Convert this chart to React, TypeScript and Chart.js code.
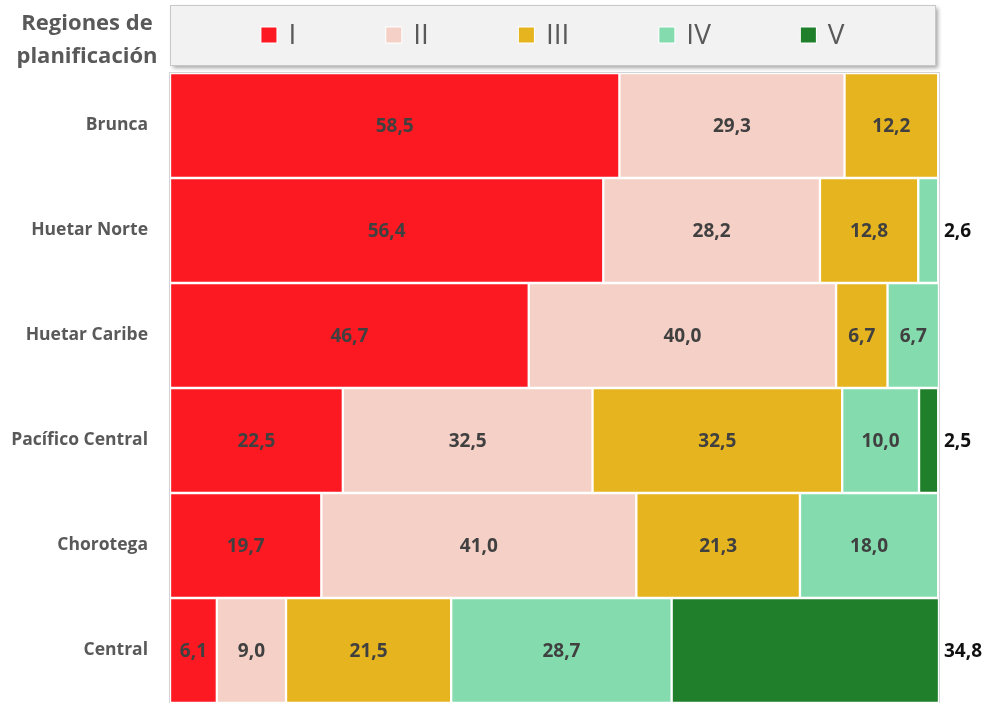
import React, { useEffect, useRef } from "react";
import { Chart, registerables } from "chart.js";
Chart.register(...registerables);

const categories = ["Brunca", "Huetar Norte", "Huetar Caribe", "Pacífico Central", "Chorotega", "Central"];
const seriesNames = ["I", "II", "III", "IV", "V"];
const seriesI = [58.5, 56.4, 46.7, 22.5, 19.7, 6.1];
const seriesII = [29.3, 28.2, 40.0, 32.5, 41.0, 9.0];
const seriesIII = [12.2, 12.8, 6.7, 32.5, 21.3, 21.5];
const seriesIV = [null, 2.6, 6.7, 10.0, 18.0, 28.7];
const seriesV = [null, null, null, 2.5, null, 34.8];
const seriesColors = ["#fc1922", "#f4d0c6", "#e6b41e", "#84dcae", "#1f7f2b"];
// [seriesIndex, categoryIndex] of value labels placed to the right of the plot
const outsideLabels = [[3, 1], [4, 3], [4, 5]];
const titleLines = ["Regiones de", "planificación"];

const allSeries = [seriesI, seriesII, seriesIII, seriesIV, seriesV];

const fmt = (v: number) => v.toFixed(1).replace(".", ",");

const decorPlugin = {
  id: "decor",
  beforeDraw(chart: any) {
    const ctx = chart.ctx;
    ctx.save();
    // title
    ctx.fillStyle = "#595959";
    ctx.font = "bold 22px 'Open Sans'";
    ctx.textAlign = "center";
    ctx.textBaseline = "alphabetic";
    ctx.fillText(titleLines[0], 87, 30);
    ctx.fillText(titleLines[1], 87, 63);

    // legend box
    const bx = 170.5, by = 5.5, bw = 765, bh = 60;
    ctx.shadowColor = "rgba(0,0,0,0.35)";
    ctx.shadowBlur = 4;
    ctx.shadowOffsetX = 2;
    ctx.shadowOffsetY = 2;
    ctx.fillStyle = "#f2f2f2";
    ctx.fillRect(bx, by, bw, bh);
    ctx.shadowColor = "transparent";
    ctx.shadowBlur = 0;
    ctx.shadowOffsetX = 0;
    ctx.shadowOffsetY = 0;
    ctx.strokeStyle = "#c8c8c8";
    ctx.lineWidth = 1;
    ctx.strokeRect(bx, by, bw, bh);

    ctx.font = "28px 'Open Sans'";
    const sq = 15, gap = 12, spacing = 90;
    const widths = seriesNames.map((n) => ctx.measureText(n).width);
    const total = widths.reduce((a, w) => a + sq + gap + w, 0) + spacing * (seriesNames.length - 1);
    let x = bx + bw / 2 - total / 2;
    const cy = 35;
    ctx.textAlign = "left";
    ctx.textBaseline = "middle";
    seriesNames.forEach((n, i) => {
      ctx.fillStyle = "#ffffff";
      ctx.fillRect(x - 1, cy - sq / 2 - 1, sq + 2, sq + 2);
      ctx.fillStyle = seriesColors[i];
      ctx.fillRect(x, cy - sq / 2, sq, sq);
      ctx.fillStyle = "#595959";
      ctx.fillText(n, x + sq + gap, cy + 1);
      x += sq + gap + widths[i] + spacing;
    });
    ctx.restore();
  },
  afterDatasetsDraw(chart: any) {
    const ctx = chart.ctx;
    const area = chart.chartArea;
    ctx.save();
    ctx.strokeStyle = "#d4d4d4";
    ctx.lineWidth = 1;
    ctx.strokeRect(area.left - 0.5, area.top - 0.5, area.right - area.left + 1, area.bottom - area.top + 1);

    ctx.font = "bold 19px 'Open Sans'";
    ctx.textBaseline = "middle";
    chart.data.datasets.forEach((ds: any, di: number) => {
      const meta = chart.getDatasetMeta(di);
      meta.data.forEach((el: any, ci: number) => {
        const v = ds.data[ci];
        if (v === null || v === undefined) return;
        const p = el.getProps(["x", "y", "base"], true);
        const outside = outsideLabels.some(([s, c]) => s === di && c === ci);
        if (outside) {
          ctx.fillStyle = "#111111";
          ctx.textAlign = "left";
          ctx.fillText(fmt(v), area.right + 5, p.y + 1);
        } else {
          ctx.fillStyle = "#404040";
          ctx.textAlign = "center";
          ctx.fillText(fmt(v), (p.x + p.base) / 2, p.y + 1);
        }
      });
    });
    ctx.restore();
  },
};

export default function App() {
  const ref = useRef<HTMLCanvasElement | null>(null);
  useEffect(() => {
    if (!ref.current) return;
    const maxSum = Math.max(
      ...categories.map((_, ci) => allSeries.reduce((a, s) => a + (s[ci] ?? 0), 0))
    );
    const chart = new Chart(ref.current, {
      type: "bar",
      data: {
        labels: categories,
        datasets: allSeries.map((s, i) => ({
          label: seriesNames[i],
          data: s as any,
          backgroundColor: seriesColors[i],
          borderColor: "#ffffff",
          borderWidth: 1.5,
          borderSkipped: false,
          barPercentage: 1,
          categoryPercentage: 1,
        })),
      },
      options: {
        indexAxis: "y",
        animation: false,
        responsive: false,
        maintainAspectRatio: false,
        layout: { padding: { left: 0, right: 45, top: 73, bottom: 0 } },
        plugins: { legend: { display: false }, tooltip: { enabled: false } },
        scales: {
          x: { stacked: true, display: false, min: 0, max: maxSum },
          y: {
            stacked: true,
            grid: { display: false, drawTicks: false },
            border: { display: false },
            ticks: {
              color: "#595959",
              font: { family: "'Open Sans'", size: 17.5, weight: "bold" },
              padding: 22,
            },
            afterFit: (scale: any) => {
              scale.width = 170;
              scale.paddingTop = 0;
              scale.paddingBottom = 0;
            },
          },
        },
      },
      plugins: [decorPlugin],
    });
    return () => chart.destroy();
  }, []);
  return (
    <div style={{ position: "absolute", left: 0, top: 0, width: 984, height: 703, background: "#ffffff" }}>
      <canvas ref={ref} width={984} height={703} />
    </div>
  );
}
